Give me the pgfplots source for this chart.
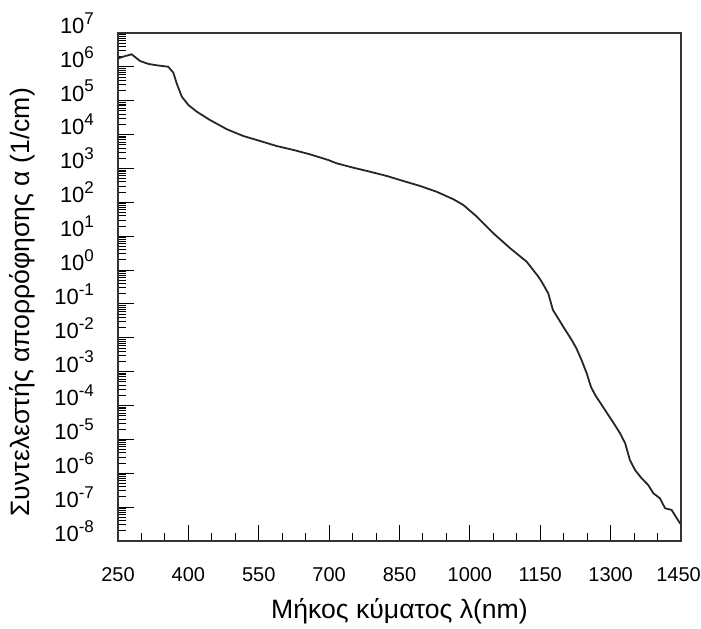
\documentclass[border=0pt]{standalone}
\usepackage{fontspec}
\setmainfont{Liberation Sans}
\usepackage{pgfplots}
\pgfplotsset{compat=1.18}
\newcommand{\sx}[1]{10\raisebox{0.42em}{\fontsize{8.5}{10}\selectfont #1}}
\newcommand{\xl}[2]{\makebox[0pt]{\kern #1pt\kern #1pt #2}}
\begin{document}
\begin{tikzpicture}
\begin{axis}[
  scale only axis,
  width=281.5pt, height=254pt,
  xmin=250, xmax=1450,
  ymode=log, ymin=1e-8, ymax=1e7,
  xtick={250,400,550,700,850,1000,1150,1300,1450},
  minor x tick num=2,
  ytick={1e-8,1e-7,1e-6,1e-5,1e-4,1e-3,1e-2,1e-1,1,10,100,1e3,1e4,1e5,1e6,1e7},
  yticklabels={\sx{-8},\sx{-7},\sx{-6},\sx{-5},\sx{-4},\sx{-3},\sx{-2},\sx{-1},\sx{0},\sx{1},\sx{2},\sx{3},\sx{4},\sx{5},\sx{6},\sx{7}},
  xticklabels={250,400,550,700,850,1000,1150,1300,\xl{-1.2}{1450}},
  xtick pos=left, ytick pos=left,
  tick align=inside,
  major tick length=8pt,
  minor tick length=4pt,
  tick style={black, line width=0.5pt},
  axis line style={black!80, line width=0.6pt},
  yticklabel style={font=\fontsize{11}{13}\selectfont, xshift=-8.5pt, yshift=5pt},
  xticklabel style={font=\fontsize{10}{12}\selectfont, yshift=-9.5pt},
  xlabel={Μήκος κύματος λ(nm)},
  ylabel={Συντελεστής απορρόφησης α (1/cm)},
  label style={font=\fontsize{13.3}{15}\selectfont},
  xlabel style={at={(axis description cs:0.5,-0.138)}, anchor=center},
  ylabel style={at={(axis description cs:-0.17,0.47)}, anchor=center},
]
\addplot[black!85, line width=0.9pt] coordinates {
(250,1.77e6) (261,2.0e6) (279,2.35e6) (297,1.49e6) (315,1.22e6) (333,1.11e6)
(357,1.01e6) (368,6.73e5) (375,3.27e5) (386,1.32e5) (400,7.48e4) (418,4.74e4)
(446,2.70e4) (482,1.44e4) (517,9.10e3) (553,6.47e3) (588,4.61e3) (624,3.52e3)
(659,2.62e3) (698,1.78e3) (716,1.42e3) (752,1.05e3) (787,8.04e2) (823,6.00e2)
(858,4.27e2) (894,3.04e2) (929,2.06e2) (965,1.23e2) (986,8.36e1) (1015,3.77e1)
(1050,1.22e1) (1086,4.40) (1121,1.77) (1146,6.38e-1) (1153,4.54e-1) (1167,2.07e-1)
(1177,6.64e-2) (1188,3.78e-2) (1199,2.13e-2) (1217,8.63e-3) (1227,4.91e-3) (1238,2.21e-3)
(1249,8.97e-4) (1258,3.61e-4) (1267,2.05e-4) (1281,1.04e-4) (1295,5.27e-5) (1309,2.67e-5)
(1320,1.52e-5) (1331,7.69e-6) (1341,2.47e-6) (1352,1.25e-6) (1366,7.13e-7) (1380,4.52e-7)
(1391,2.57e-7) (1405,1.83e-7) (1416,9.27e-8) (1430,8.26e-8) (1441,4.70e-8) (1449,3.18e-8)
};
\end{axis}
\pgfresetboundingbox
\path[use as bounding box] (-59pt,-43.5pt) rectangle (291.5pt,270.5pt);
\end{tikzpicture}
\end{document}
